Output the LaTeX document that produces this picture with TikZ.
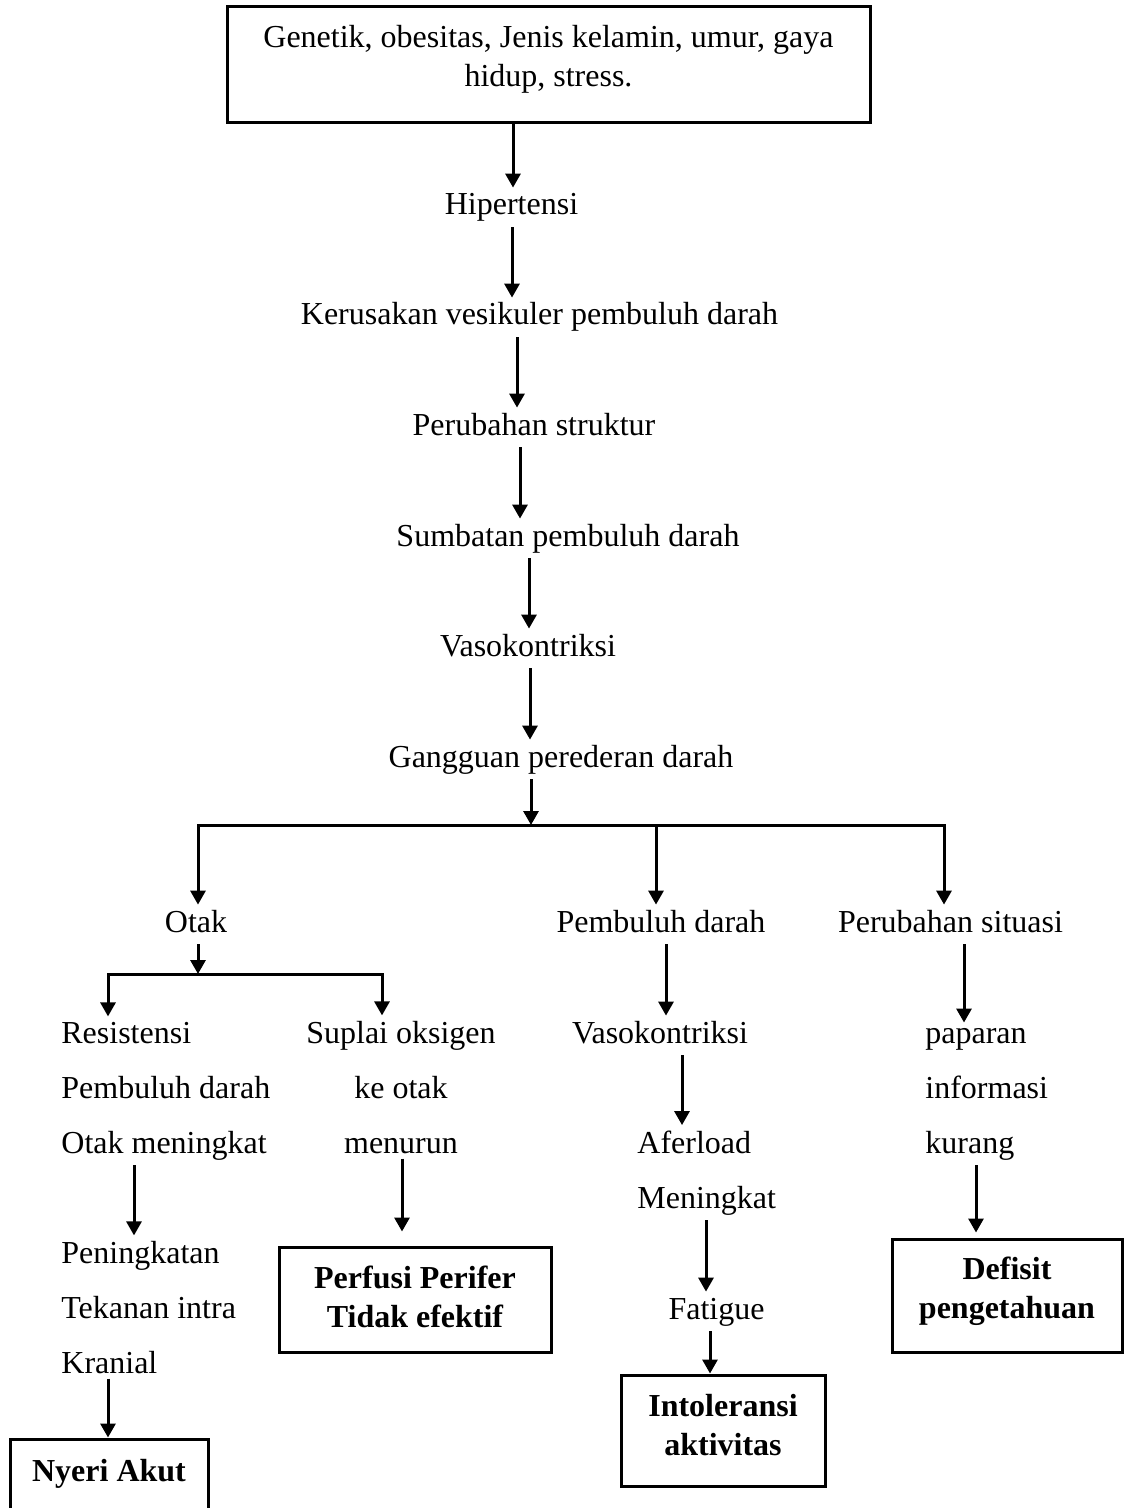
\documentclass[tikz,border=0pt]{standalone}
\usepackage{fontspec}
\setmainfont{Liberation Serif}
\usetikzlibrary{arrows.meta}
\begin{document}
\begin{tikzpicture}[x=0.5pt,y=-0.5pt,
  arr/.style={line width=1.5pt,-{Triangle[length=7pt,width=7.5pt]}},
  bus/.style={line width=1.5pt,line cap=rect},
  txt/.style={inner xsep=0pt,inner ysep=2.5pt,text height=11pt,text depth=3.5pt,font=\fontsize{16}{27.5}\selectfont,anchor=base},
  txtm/.style={inner xsep=0pt,inner ysep=2.5pt,font=\fontsize{16}{27.5}\selectfont},
  bx/.style={draw,line width=1.5pt,align=center,inner sep=0pt,font=\fontsize{16}{19.5}\selectfont\bfseries},
]
\useasboundingbox (0,0) rectangle (1124,1508);

% boxes
\node[bx,font=\fontsize{16}{19.5}\selectfont,minimum width=321.5pt,minimum height=58pt,text height=30.5pt,text depth=8.5pt] (top) at (548.5,65) {Genetik, obesitas, Jenis kelamin, umur, gaya\\hidup, stress.};
\node[bx,minimum width=136pt,minimum height=52.5pt,text height=30.5pt,text depth=3pt] (perf) at (415,1299.5) {Perfusi Perifer\\Tidak efektif};
\node[bx,minimum width=102pt,minimum height=55.5pt,text height=30.5pt,text depth=6pt] (into) at (723,1430.5) {Intoleransi\\aktivitas};
\node[bx,minimum width=115pt,minimum height=56.5pt,text height=30.5pt,text depth=8pt] (def) at (1007,1295.5) {Defisit\\pengetahuan};
\node[bx,minimum width=99pt,minimum height=43pt,text height=11pt,text depth=12pt] (nyeri) at (109,1482) {Nyeri Akut};

% text nodes
\node[txt] (hip) at (511.5,215) {Hipertensi};
\node[txt] (ker) at (539.5,325) {Kerusakan vesikuler pembuluh darah};
\node[txt] (per) at (534,435) {Perubahan struktur};
\node[txt] (sum) at (568,546) {Sumbatan pembuluh darah};
\node[txt] (vas) at (528,656) {Vasokontriksi};
\node[txt] (gan) at (561,767) {Gangguan perederan darah};
\node[txt] (otak) at (196,932) {Otak};
\node[txt] (pd) at (661,932) {Pembuluh darah};
\node[txt] (ps) at (950.5,932) {Perubahan situasi};
\node[txtm,anchor=base west,align=left] (res) at (61,1153) {Resistensi\\Pembuluh darah\\Otak meningkat};
\node[txtm,anchor=base,align=center] (sup) at (401,1153) {Suplai oksigen\\ke otak\\menurun};
\node[txtm,anchor=base west,align=left] (pen) at (61,1373) {Peningkatan\\Tekanan intra\\Kranial};
\node[txt] (vas2) at (660,1043) {Vasokontriksi};
\node[txtm,anchor=base west,align=left] (afe) at (637,1208) {Aferload\\Meningkat};
\node[txt] (fat) at (716.5,1319) {Fatigue};
\node[txtm,anchor=base west,align=left] (pap) at (925,1153) {paparan\\informasi\\kurang};

% junction coordinates
\coordinate (j) at (531,825);
\coordinate (bL) at (198,825);
\coordinate (bM) at (656,825);
\coordinate (bR) at (944,825);
\coordinate (cJ) at (198,974);
\coordinate (cL) at (108,974);
\coordinate (cR) at (382,974);

% main chain
\draw[arr] (top.south -| 513,0) -- (hip.north -| 513,0);
\draw[arr] (hip.south -| 512,0) -- (ker.north -| 512,0);
\draw[arr] (ker.south -| 517,0) -- (per.north -| 517,0);
\draw[arr] (per.south -| 520,0) -- (sum.north -| 520,0);
\draw[arr] (sum.south -| 529,0) -- (vas.north -| 529,0);
\draw[arr] (vas.south -| 530,0) -- (gan.north -| 530,0);

% branching
\draw[bus] (bL) -- (bR);
\draw[arr] (gan.south -| j) -- (j);
\draw[arr] (bL) -- (otak.north -| bL);
\draw[arr] (bM) -- (pd.north -| bM);
\draw[arr] (bR) -- (ps.north -| bR);

% otak branch
\draw[bus] (cL) -- (cR);
\draw[arr] (otak.south -| cJ) -- (cJ);
\draw[arr] (cL) -- (res.north -| cL);
\draw[arr] (cR) -- (sup.north -| cR);
\draw[arr] (res.south -| 134,0) -- (pen.north -| 134,0);
\draw[arr] (pen.south -| 108,0) -- (nyeri.north -| 108,0);
\draw[arr,shorten >=7pt] (sup.south -| 402,0) -- (perf.north -| 402,0);

% pembuluh darah branch
\draw[arr] (pd.south -| 666,0) -- (vas2.north -| 666,0);
\draw[arr] (vas2.south -| 682,0) -- (afe.north -| 682,0);
\draw[arr] (afe.south -| 706,0) -- (fat.north -| 706,0);
\draw[arr] (fat.south -| 710,0) -- (into.north -| 710,0);

% perubahan situasi branch
\draw[arr] (ps.south -| 964,0) -- (pap.north -| 964,0);
\draw[arr,shorten >=2.5pt] (pap.south -| 976,0) -- (def.north -| 976,0);
\end{tikzpicture}
\end{document}
